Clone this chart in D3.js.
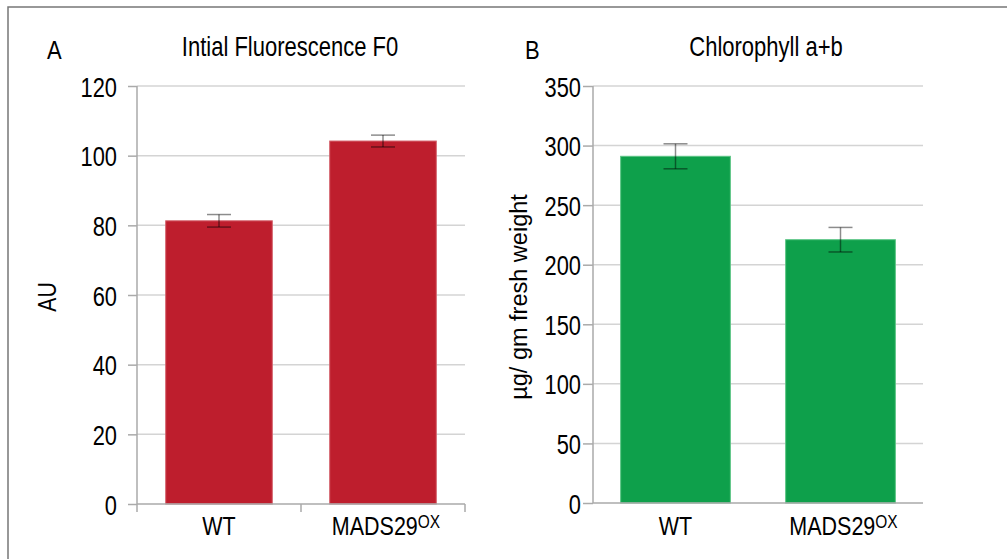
<html>
<head>
<style>
    body { margin: 0; background: #fff; }
    text { font-family: "Liberation Sans", Arial, sans-serif; fill: #000; }
    .grid line { stroke: #d4d4d4; stroke-width: 1.5; }
    .axis path, .axis line { stroke: #aaa; stroke-width: 1.5; }
</style>
</head>
<body>
<svg id="container" width="1007" height="559"></svg>
<script src="https://cdn.jsdelivr.net/npm/d3@7"></script>
<script>
    // data
    const categories = ["WT", "MADS29"]
    const fluorValues = [81.3, 104.2]
    const fluorErrors = [1.8, 1.7]
    const fluorTicks = [0, 20, 40, 60, 80, 100, 120]
    const chlValues = [291, 221]
    const chlErrors = [10.5, 10.3]
    const chlTicks = [0, 50, 100, 150, 200, 250, 300, 350]

    let svg = d3.select("#container")

    // frame
    svg.append("path")
        .attr("d", "M8,559 V7 H1007")
        .attr("fill", "none")
        .attr("stroke", "#777")
        .attr("stroke-width", 1.5)

    // the original uses a narrow font, so squeeze Liberation Sans horizontally
    function label(parent, x, y, str, size, sx, anchor, rot) {
        return parent.append("text")
            .attr("transform", `translate(${x},${y})` + (rot ? ` rotate(${rot})` : "") + ` scale(${sx},1)`)
            .attr("text-anchor", anchor || "start")
            .style("font-size", size + "px")
            .text(str)
    }

    function panel(opt) {
        let g = svg.append("g")
        let x = d3.scaleBand().domain(categories)
            .range([opt.left, opt.right])
            .paddingInner(opt.pad).paddingOuter(opt.pad / 2)
        let y = d3.scaleLinear().domain([0, opt.max]).range([opt.bottom, opt.top])

        // gridlines
        g.append("g").attr("class", "grid")
            .selectAll("line").data(opt.ticks.filter(d => d > 0))
            .enter().append("line")
            .attr("x1", opt.left).attr("x2", opt.right)
            .attr("y1", d => y(d)).attr("y2", d => y(d))

        // bars
        g.selectAll("rect.bar").data(opt.values)
            .enter().append("rect")
            .attr("class", "bar")
            .attr("x", (d, i) => x(categories[i]))
            .attr("width", x.bandwidth())
            .attr("y", d => y(d))
            .attr("height", d => y(0) - y(d))
            .attr("fill", opt.color)
            .attr("stroke", opt.edge)
            .attr("stroke-width", 1)

        // error bars
        let eb = g.selectAll("g.err").data(opt.values)
            .enter().append("g")
            .attr("stroke", "#000")
            .attr("stroke-opacity", 0.45)
            .attr("stroke-width", 1.5)
        let cx = (d, i) => x(categories[i]) + x.bandwidth() / 2
        eb.append("line")
            .attr("x1", cx).attr("x2", cx)
            .attr("y1", (d, i) => y(d + opt.errors[i]))
            .attr("y2", (d, i) => y(d - opt.errors[i]))
        eb.append("line")
            .attr("x1", (d, i) => cx(d, i) - 12).attr("x2", (d, i) => cx(d, i) + 12)
            .attr("y1", (d, i) => y(d + opt.errors[i]))
            .attr("y2", (d, i) => y(d + opt.errors[i]))
        eb.append("line")
            .attr("x1", (d, i) => cx(d, i) - 12).attr("x2", (d, i) => cx(d, i) + 12)
            .attr("y1", (d, i) => y(d - opt.errors[i]))
            .attr("y2", (d, i) => y(d - opt.errors[i]))

        // y axis
        let yAxis = g.append("g").attr("class", "axis")
            .attr("transform", `translate(${opt.left},0)`)
            .call(d3.axisLeft(y).tickValues(opt.ticks).tickSize(opt.tick).tickSizeOuter(0).tickPadding(opt.tickPad))
        yAxis.select(".domain").attr("d", `M0,${opt.top}V${opt.bottom}`)
        yAxis.selectAll("text")
            .attr("x", null)
            .attr("transform", `translate(${-(opt.tick + opt.tickPad)},0) scale(0.78,1)`)
            .style("font-size", "28px")
            .attr("font-family", null)
            .attr("fill", "#000")
            .attr("dy", "0.36em")

        // x axis line
        g.append("line")
            .attr("x1", opt.left).attr("x2", opt.right)
            .attr("y1", y(0)).attr("y2", y(0))
            .attr("stroke", "#aaa").attr("stroke-width", 1.5)
        if (opt.xTicks) {
            let bounds = [0, 1, 2].map(k => opt.left + k * x.step())
            g.selectAll("line.xt").data(bounds)
                .enter().append("line")
                .attr("x1", d => d).attr("x2", d => d)
                .attr("y1", y(0)).attr("y2", y(0) + 8)
                .attr("stroke", "#aaa").attr("stroke-width", 1.5)
        }

        // category labels
        categories.forEach(c => {
            let t = label(g, x(c) + x.bandwidth() / 2 + (c == "WT" ? 0 : 3), 535, c, 25, 0.86, "middle")
            if (c != "WT") {
                t.append("tspan").attr("dy", -7).style("font-size", "18px").text("OX")
            }
        })

        // title, panel letter, y title
        label(g, opt.titleX, 56, opt.title, 27.5, 0.8, "middle")
        label(g, opt.letterX, 59, opt.letter, 25, 0.88)
        label(g, opt.yTitleX, opt.yTitleY, opt.yTitle, opt.yTitleSize, opt.yTitleSx, "middle", -90)
    }

    panel({
        left: 137, right: 465, top: 86, bottom: 504, max: 120,
        pad: 0.35, ticks: fluorTicks, values: fluorValues, errors: fluorErrors,
        color: "#be1e2d", edge: "#d4626c", tick: 9, tickPad: 11, xTicks: true,
        title: "Intial Fluorescence F0", titleX: 290, letter: "A", letterX: 47,
        yTitle: "AU", yTitleX: 56, yTitleY: 297, yTitleSize: 26.5, yTitleSx: 0.8
    })

    panel({
        left: 593, right: 923, top: 86, bottom: 503, max: 350,
        pad: 0.335, ticks: chlTicks, values: chlValues, errors: chlErrors,
        color: "#0ea04b", edge: "#5cc585", tick: 10, tickPad: 2, xTicks: false,
        title: "Chlorophyll a+b", titleX: 766, letter: "B", letterX: 525,
        yTitle: "µg/ gm fresh weight", yTitleX: 527, yTitleY: 297, yTitleSize: 24, yTitleSx: 0.98
    })
</script>
</body>
</html>
